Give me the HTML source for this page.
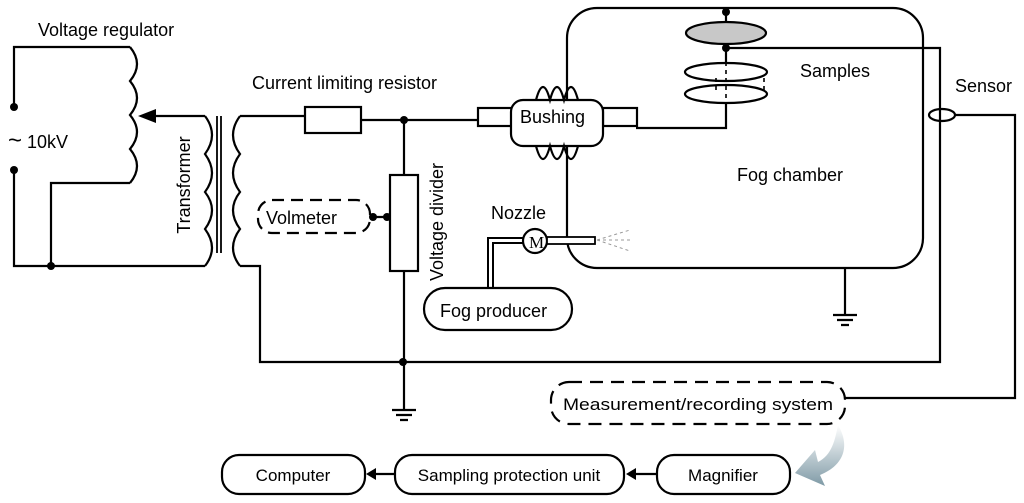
<!DOCTYPE html>
<html><head><meta charset="utf-8"><style>
html,body{margin:0;padding:0;background:#fff;}
svg{display:block;font-family:"Liberation Sans",Arial,sans-serif;}
</style></head><body>
<svg width="1024" height="503" viewBox="0 0 1024 503" xmlns="http://www.w3.org/2000/svg">
<defs>
<linearGradient id="g" x1="0" y1="0" x2="0" y2="1">
<stop offset="0" stop-color="#fff"/><stop offset="1" stop-color="#7f9aa6"/></linearGradient>
</defs>
<g fill="none" stroke="#000" stroke-width="2.2">
<path d="M14 107 V47 H130"/>
<path d="M130 47 q14 17 0 34 q14 17 0 34 q14 17 0 34 q14 17 0 34"/>
<path d="M130 183 H51 V266"/>
<path d="M14 170 V266 H205"/>
<path d="M205 116 H150"/>
<path d="M205 116 q14 19 0 38 q14 19 0 38 q14 18 0 37 q14 19 0 37"/>
<path d="M217 116 V253 M221 116 V253" stroke-width="1.8"/>
<path d="M240 116 q-14 19 0 38 q-14 19 0 38 q-14 18 0 37 q-14 19 0 37"/>
<path d="M240 116 H305 M360 120 H478"/>
<rect x="305" y="107" width="56" height="26"/>
<path d="M404 120 V175 M404 271 V410"/>
<rect x="390" y="175" width="28" height="96"/>
<path d="M373 217 H390"/>
<rect x="258" y="200" width="112" height="33" rx="14" stroke-dasharray="12 7"/>
<path d="M240 266 H260 V362 H940 V48 H726"/>
<path d="M392 410 H416 M396 415 H412 M400 420 H408"/>
<path d="M845 268 V315 M833 315 H857 M837 320 H853 M841 325 H849"/>
<rect x="567" y="8" width="356" height="260" rx="30"/>
<path d="M726 8 V22 M726 44 V64 M726 102 V128 H636"/>
<ellipse cx="726" cy="33" rx="40" ry="11" fill="#c8c8c8"/>
<ellipse cx="726" cy="72" rx="41" ry="9"/>
<ellipse cx="726" cy="94" rx="41" ry="9"/>
<path d="M726 62 V105 M716 78 V90 M764 78 V90" stroke-dasharray="4 4" stroke-width="1.6"/>
<rect x="478" y="108" width="34" height="18"/>
<rect x="603" y="108" width="34" height="18"/>
<rect x="511" y="100" width="92" height="46" rx="12" fill="#fff"/>
<path d="M536 100 q7 -26 14 0 q7 -26 14 0 q7 -26 14 0"/>
<path d="M536 146 q7 26 14 0 q7 26 14 0 q7 26 14 0"/>
<ellipse cx="942" cy="115" rx="13" ry="6"/>
<path d="M955 115 H1015 V398 H845"/>
<path d="M523 238 H488 V288 M523 243 H493 V288" stroke-width="2"/>
<circle cx="535" cy="241" r="12" fill="#fff"/>
<rect x="547" y="237" width="48" height="7" fill="#fff" stroke-width="1.8"/>
<path d="M597 240 L630 230 M597 240 H630 M597 240 L630 251" stroke="#999" stroke-width="1" stroke-dasharray="3 3"/>
<rect x="424" y="288" width="148" height="42" rx="21"/>
<rect x="551" y="382" width="294" height="42" rx="18" stroke-dasharray="13 8"/>
<rect x="222" y="455" width="143" height="39" rx="17"/>
<rect x="395" y="455" width="229" height="39" rx="17"/>
<rect x="657" y="455" width="133" height="39" rx="17"/>
<path d="M395 474 H372 M657 474 H632"/>
</g>
<g fill="#000">
<circle cx="14" cy="107" r="4"/><circle cx="14" cy="170" r="4"/><circle cx="51" cy="266" r="4"/>
<polygon points="138,116 156,109 156,123"/>
<circle cx="404" cy="120" r="4"/><circle cx="373" cy="217" r="4"/><circle cx="387" cy="217" r="4"/>
<circle cx="403" cy="362" r="4"/><circle cx="726" cy="12" r="4"/><circle cx="726" cy="48" r="4"/>
<polygon points="366,474 376,468 376,480"/><polygon points="626,474 636,468 636,480"/>
</g>
<path d="M838 425 C850 445 845 465 820 475 L825 486 L795 473 L815 450 L818 462 C832 455 835 440 838 425 Z" fill="url(#g)"/>
<g font-size="18" fill="#000">
<text x="38" y="36">Voltage regulator</text>
<text x="8" y="148"><tspan font-size="24">~</tspan> 10kV</text>
<text x="252" y="89">Current limiting resistor</text>
<text x="266" y="224">Volmeter</text>
<text transform="translate(190 185) rotate(-90)" text-anchor="middle">Transformer</text>
<text transform="translate(443 222) rotate(-90)" text-anchor="middle">Voltage divider</text>
<text x="520" y="123">Bushing</text>
<text x="800" y="77">Samples</text>
<text x="955" y="92">Sensor</text>
<text x="737" y="181">Fog chamber</text>
<text x="491" y="219">Nozzle</text>
<text x="440" y="317">Fog producer</text>
<text x="529" y="248" font-family="Liberation Serif" font-size="17">M</text>
<text x="698" y="410" text-anchor="middle" font-size="17" textLength="270" lengthAdjust="spacingAndGlyphs">Measurement/recording system</text>
<text x="293" y="481" text-anchor="middle" font-size="17">Computer</text>
<text x="509" y="481" text-anchor="middle" font-size="17">Sampling protection unit</text>
<text x="723" y="481" text-anchor="middle" font-size="17">Magnifier</text>
</g>
</svg>
</body></html>
